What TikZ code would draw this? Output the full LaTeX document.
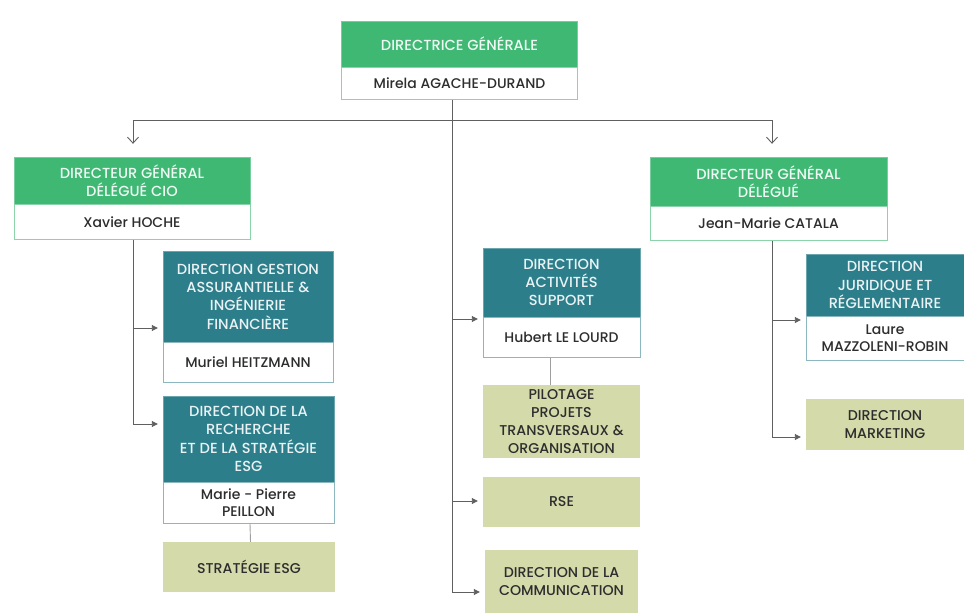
\documentclass[tikz,border=0pt]{standalone}
\usepackage{fontspec}
\setmainfont{Poppins}[UprightFont={* Medium}]
\usetikzlibrary{arrows.meta,positioning}
\definecolor{vertdg}{RGB}{62,184,115}
\definecolor{bleudir}{RGB}{44,126,139}
\definecolor{olive}{RGB}{212,218,170}
\definecolor{texte}{RGB}{45,45,45}
\definecolor{trait}{RGB}{95,95,95}
\begin{document}
\begin{tikzpicture}[x=1pt,y=-1pt,
    entete/.style={fill=vertdg,draw=vertdg!70!white,text=white!92!vertdg,align=center,inner sep=0pt,
        font=\fontsize{14.6}{18.3}\selectfont},
    direction/.style={entete,fill=bleudir,draw=bleudir!70!white,text=white!90!bleudir},
    nom/.style={fill=white,draw=vertdg!60!white,text=texte,align=center,inner sep=0pt,
        font=\fontsize{14}{17.5}\selectfont},
    nomdir/.style={nom,draw=bleudir!55!white},
    pole/.style={fill=olive,text=texte,align=center,inner sep=0pt,
        font=\fontsize{14.2}{18.3}\selectfont},
    ligne/.style={draw=trait,line width=0.9pt},
    fleche/.style={ligne,-{Triangle[length=6pt,width=6pt]},shorten >=5pt},
    barbe/.style={ligne,-{Straight Barb[length=6pt,width=11pt]}}]
\useasboundingbox (0,0) rectangle (964,615);

% direction generale
\node[entete,minimum width=236,minimum height=46] (dg) at (459.5,44) {DIRECTRICE GÉNÉRALE};
\node[nom,minimum width=236,minimum height=32,below=0pt of dg] (dgnom) {Mirela AGACHE-DURAND};

% directeurs generaux delegues
\node[entete,minimum width=236,minimum height=47] (cio) at (132,180.5) {DIRECTEUR GÉNÉRAL\\DÉLÉGUÉ CIO};
\node[nom,minimum width=236,minimum height=35,below=0pt of cio] (cionom) {Xavier HOCHE};
\node[entete,minimum width=237,minimum height=49] (dgd) at (768.5,181.5) {DIRECTEUR GÉNÉRAL\\DÉLÉGUÉ};
\node[nom,minimum width=237,minimum height=34,below=0pt of dgd] (dgdnom) {Jean-Marie CATALA};

% branche gauche
\node[direction,minimum width=170,minimum height=91] (gestion) at (248,296.5)
    {DIRECTION GESTION\\ASSURANTIELLE \&\\INGÉNIERIE\\FINANCIÈRE};
\node[nomdir,minimum width=170,minimum height=40,below=0pt of gestion] (gestionnom) {Muriel HEITZMANN};
\node[direction,minimum width=171,minimum height=86] (recherche) at (248.5,439)
    {DIRECTION DE LA\\RECHERCHE\\ET DE LA STRATÉGIE\\ESG};
\node[nomdir,minimum width=171,minimum height=41,below=0pt of recherche] (recherchenom) {Marie - Pierre\\PEILLON};
\node[pole,minimum width=172,minimum height=50] (esg) at (249,567) {STRATÉGIE ESG};

% branche centrale
\node[direction,minimum width=157,minimum height=69] (support) at (561.5,282.5)
    {DIRECTION\\ACTIVITÉS\\SUPPORT};
\node[nomdir,minimum width=157,minimum height=40,below=0pt of support] (supportnom) {Hubert LE LOURD};
\node[pole,minimum width=157,minimum height=73] (pilotage) at (561.5,421.5)
    {PILOTAGE\\PROJETS\\TRANSVERSAUX \&\\ORGANISATION};
\node[pole,minimum width=157,minimum height=50] (rse) at (561.5,502) {RSE};
\node[pole,minimum width=153,minimum height=63] (comm) at (561.5,581.5) {DIRECTION DE LA\\COMMUNICATION};

% branche droite
\node[direction,minimum width=158,minimum height=62] (juridique) at (885,285)
    {DIRECTION\\JURIDIQUE ET\\RÉGLEMENTAIRE};
\node[nomdir,minimum width=158,minimum height=44,below=0pt of juridique] (juridiquenom) {Laure\\MAZZOLENI-ROBIN};
\node[pole,minimum width=158,minimum height=51] (marketing) at (885,424.5) {DIRECTION\\MARKETING};

% points de depart des fleches
\coordinate (h1) at (133,120);
\coordinate (h2) at (772,120);
\coordinate (g1) at (133,328);
\coordinate (g2) at (133,424);
\coordinate (c1) at (452,319);
\coordinate (c2) at (452,501);
\coordinate (c3) at (452,592);
\coordinate (d1) at (772,320);
\coordinate (d2) at (772,437);

% liaisons
\draw[ligne] (dgnom.south -| c1) -- (c3);
\draw[ligne] (h1) -- (h2);
\draw[barbe] (h1) -- ([yshift=13pt]cio.north -| h1);
\draw[barbe] (h2) -- ([yshift=13pt]dgd.north -| h2);
\draw[ligne] (cionom.south -| g1) -- (g2);
\draw[ligne] (dgdnom.south -| d1) -- (d2);
\draw[fleche] (g1) -- (g1 -| gestion.west);
\draw[fleche] (g2) -- (g2 -| recherche.west);
\draw[fleche] (c1) -- (c1 -| support.west);
\draw[fleche] (c2) -- (c2 -| rse.west);
\draw[fleche] (c3) -- (c3 -| comm.west);
\draw[fleche] (d1) -- (d1 -| juridique.west);
\draw[fleche] (d2) -- (d2 -| marketing.west);
\draw[ligne,draw=trait!60] ([xshift=1.5pt]recherchenom.south) -- ([xshift=1.5pt]esg.north);
\draw[ligne,draw=trait!60] ([xshift=-11.5pt]supportnom.south) -- ([xshift=-11.5pt]pilotage.north);
\end{tikzpicture}
\end{document}
